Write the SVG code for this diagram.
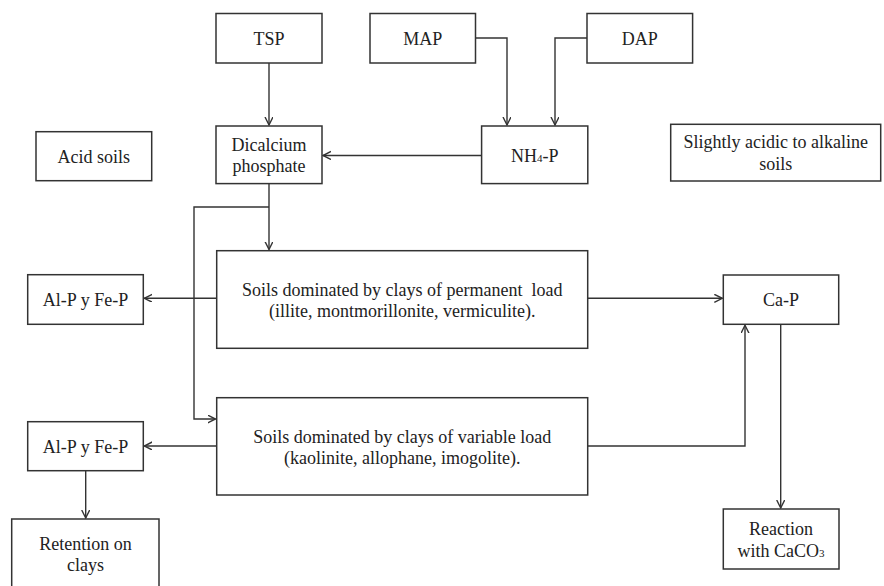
<svg xmlns="http://www.w3.org/2000/svg" width="884" height="586" viewBox="0 0 884 586">
<style>
.box{fill:#fff;stroke:#333;stroke-width:1.5}
.t{font-family:"Liberation Serif","Times New Roman",serif;font-size:18px;fill:#222;text-anchor:middle}
.c{fill:none;stroke:#333;stroke-width:1.4}
.sub{font-size:11px}
</style>
<defs>
<marker id="ah" markerUnits="userSpaceOnUse" markerWidth="10" markerHeight="10" refX="8" refY="4" orient="auto">
<path d="M0,0 L8,4 L0,8" fill="none" stroke="#333" stroke-width="1.4"/>
</marker>
</defs>
<g id="connectors">
<path class="c" d="M269,63 V125" marker-end="url(#ah)"/>
<path class="c" d="M475.5,38 H507 V125" marker-end="url(#ah)"/>
<path class="c" d="M587,38 H555 V125" marker-end="url(#ah)"/>
<path class="c" d="M481.5,155.5 H323" marker-end="url(#ah)"/>
<path class="c" d="M269,183.6 V249.5" marker-end="url(#ah)"/>
<path class="c" d="M269,207 H194 V419 H215.5" marker-end="url(#ah)"/>
<path class="c" d="M216.7,298.3 H144.3" marker-end="url(#ah)"/>
<path class="c" d="M587.7,298.3 H722.3" marker-end="url(#ah)"/>
<path class="c" d="M216.7,446 H144.3" marker-end="url(#ah)"/>
<path class="c" d="M587.7,446 H745 V325.3" marker-end="url(#ah)"/>
<path class="c" d="M780.7,324.3 V508" marker-end="url(#ah)"/>
<path class="c" d="M85.7,470.7 V518" marker-end="url(#ah)"/>
</g>
<g id="tsp"><rect class="box" x="216" y="13.5" width="106" height="49.5"/><text class="t" x="269" y="45">TSP</text></g>
<g id="map"><rect class="box" x="370" y="13.5" width="105.5" height="49.5"/><text class="t" x="422.7" y="45">MAP</text></g>
<g id="dap"><rect class="box" x="587" y="13.5" width="105.6" height="49.5"/><text class="t" x="639.8" y="45">DAP</text></g>
<g id="dicalcium"><rect class="box" x="216" y="126" width="106" height="57.6"/><text class="t" x="269" y="151">Dicalcium</text><text class="t" x="269" y="172">phosphate</text></g>
<g id="nh4p"><rect class="box" x="481.6" y="126" width="106.2" height="57.6"/><text class="t" x="534.7" y="162">NH<tspan class="sub">4</tspan>-P</text></g>
<g id="acid"><rect class="box" x="36" y="131.7" width="115.7" height="49"/><text class="t" x="93.8" y="162.5">Acid soils</text></g>
<g id="alkaline"><rect class="box" x="670.7" y="124.3" width="210" height="56.7"/><text class="t" x="775.7" y="148">Slightly acidic to alkaline</text><text class="t" x="775.7" y="170">soils</text></g>
<g id="permanent"><rect class="box" x="216.7" y="250.7" width="371" height="97.6"/><text class="t" x="402.2" y="296" xml:space="preserve">Soils dominated by clays of permanent  load</text><text class="t" x="402.2" y="317">(illite, montmorillonite, vermiculite).</text></g>
<g id="alp1"><rect class="box" x="27.7" y="274.7" width="115.6" height="49.6"/><text class="t" x="85.5" y="306">Al-P y Fe-P</text></g>
<g id="cap"><rect class="box" x="723.3" y="275" width="115.4" height="49.3"/><text class="t" x="781" y="306">Ca-P</text></g>
<g id="variable"><rect class="box" x="216.7" y="397.7" width="371" height="97.3"/><text class="t" x="402.2" y="443">Soils dominated by clays of variable load</text><text class="t" x="402.2" y="464">(kaolinite, allophane, imogolite).</text></g>
<g id="alp2"><rect class="box" x="27.7" y="421.7" width="115.6" height="49"/><text class="t" x="85.5" y="453">Al-P y Fe-P</text></g>
<g id="retention"><rect class="box" x="11.7" y="519" width="147.3" height="75"/><text class="t" x="85.4" y="550">Retention on</text><text class="t" x="85.4" y="571">clays</text></g>
<g id="reaction"><rect class="box" x="723.3" y="509" width="115.7" height="60"/><text class="t" x="781" y="535">Reaction</text><text class="t" x="781" y="557">with CaCO<tspan class="sub">3</tspan></text></g>
</svg>
